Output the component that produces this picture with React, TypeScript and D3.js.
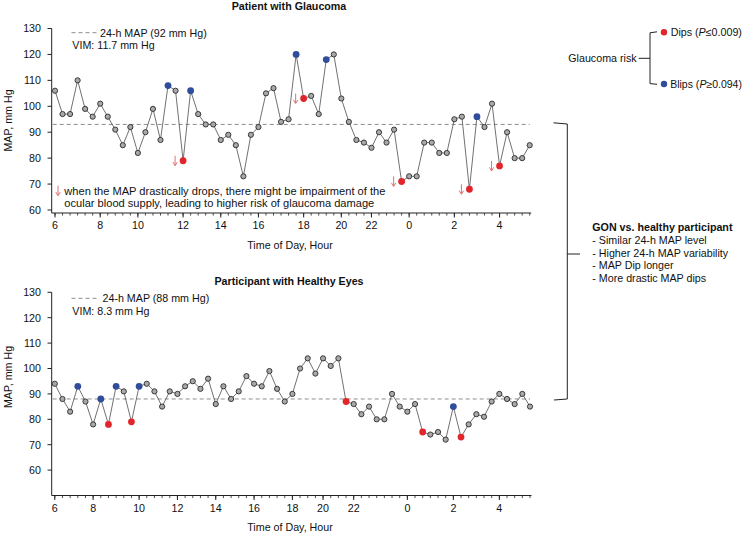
import React from "react";
import * as d3 from "d3";

// ---------- data ----------
const tickLabels = ["6", "8", "10", "12", "14", "16", "18", "20", "22", "0", "2", "4"];
const yTicks = [60, 70, 80, 90, 100, 110, 120, 130];

const topValues = [
  106, 97, 97, 110, 99, 96, 101, 96, 91, 85,
  92, 82, 90, 99, 87, 108, 106, 79, 106, 97,
  93, 93, 87, 89, 85, 73, 89, 92, 105, 107,
  94, 95, 120, 103, 104, 97, 118, 120, 103, 94,
  87, 86, 84, 90, 86, 91, 71, 73, 73, 86,
  86, 82, 82, 95, 96, 68, 96, 92, 101, 77,
  90, 80, 80, 85,
];
const topDips = [17, 33, 46, 55, 59];
const topBlips = [15, 18, 32, 36, 56];
const topTickIndex = [0, 6, 11, 17, 22, 27, 33, 38, 42, 47, 53, 59];
const topMeanLine = 93;

const bottomValues = [
  94, 88, 83, 93, 87, 78, 88, 78, 93, 91,
  79, 93, 94, 91, 85, 91, 90, 93, 95, 92,
  96, 86, 93, 88, 91, 97, 94, 93, 99, 92,
  87, 90, 100, 104, 98, 104, 101, 104, 87, 86,
  82, 85, 80, 80, 90, 85, 83, 86, 75, 74,
  75, 72, 85, 73, 78, 82, 81, 87, 90, 88,
  86, 90, 85,
];
const bottomDips = [7, 10, 38, 48, 53];
const bottomBlips = [3, 6, 8, 11, 52];
const bottomTickIndex = [0, 5, 11, 16, 21, 26, 31, 35, 39, 46, 52, 58];
const bottomMeanLine = 88;

const gonLines = [
  "- Similar 24-h MAP level",
  "- Higher 24-h MAP variability",
  "- MAP Dip longer",
  "- More drastic MAP dips",
];

// ---------- style ----------
const FONT = "'Liberation Sans', Arial, Helvetica, sans-serif";
const FS = 10.7;
const RED = "#e2252b";
const BLUE = "#2f4d9a";
const GRAY = "#a9a9a9";
const ARROW = "#e06262";
const INK = "#222";

function DipArrow({ x, y }: { x: number; y: number }) {
  return (
    <path
      d={`M${x},${y - 5} V${y + 4.6} M${x - 2.2},${y + 1.4} L${x},${y + 5} L${x + 2.2},${y + 1.4}`}
      fill="none"
      stroke={ARROW}
      strokeWidth={0.9}
    />
  );
}

type PanelProps = {
  title: string;
  titleY: number;
  values: number[];
  dips: number[];
  blips: number[];
  tickIndex: number[];
  meanLine: number;
  meanLabel: string;
  vim: string;
  xRange: [number, number];
  yDomain: [number, number];
  yRange: [number, number];
  axisY: number;
  legendY: number;
  legendTextX: number;
  yTitleY: number;
  arrows: boolean;
};

function Panel(p: PanelProps) {
  const axisX = 51.7;
  const x = d3.scaleLinear().domain([0, p.values.length - 1]).range(p.xRange);
  const y = d3.scaleLinear().domain(p.yDomain).range(p.yRange);
  const line = d3
    .line<number>()
    .x((_, i) => x(i))
    .y((d) => y(d));
  const dipSet = new Set(p.dips);
  const blipSet = new Set(p.blips);
  const idx = d3.range(p.values.length);
  return (
    <g>
      <text x={289} y={p.titleY} textAnchor="middle" fontWeight="bold" fontSize={FS}>
        {p.title}
      </text>
      {/* y axis */}
      <line x1={axisX} x2={axisX} y1={y(130)} y2={p.axisY} stroke={INK} strokeWidth={1} />
      {yTicks.map((t) => (
        <g key={t}>
          <line x1={axisX - 4.2} x2={axisX} y1={y(t)} y2={y(t)} stroke={INK} strokeWidth={1} />
          <text x={41} y={y(t)} dy="0.36em" textAnchor="end" fontSize={FS}>
            {t}
          </text>
        </g>
      ))}
      <text
        transform={`translate(11.5,${p.yTitleY}) rotate(-90)`}
        textAnchor="middle"
        fontSize={FS}
      >
        MAP, mm Hg
      </text>
      {/* x axis */}
      <line x1={axisX} x2={p.xRange[1] + 1.5} y1={p.axisY} y2={p.axisY} stroke={INK} strokeWidth={1} />
      {idx.map((i) => (
        <line
          key={"m" + i}
          x1={x(i)}
          x2={x(i)}
          y1={p.axisY}
          y2={p.axisY + 2.6}
          stroke={INK}
          strokeWidth={0.8}
        />
      ))}
      {p.tickIndex.map((ti, k) => (
        <g key={"t" + k}>
          <line x1={x(ti)} x2={x(ti)} y1={p.axisY} y2={p.axisY + 4.5} stroke={INK} strokeWidth={1} />
          <text x={x(ti)} y={p.axisY + 16.2} textAnchor="middle" fontSize={FS}>
            {tickLabels[k]}
          </text>
        </g>
      ))}
      <text x={290} y={p.axisY + 35.9} textAnchor="middle" fontSize={FS}>
        Time of Day, Hour
      </text>
      {/* mean line */}
      <line
        x1={axisX + 1}
        x2={p.xRange[1]}
        y1={y(p.meanLine)}
        y2={y(p.meanLine)}
        stroke="#808080"
        strokeWidth={0.9}
        strokeDasharray="4,3"
      />
      {/* in-plot legend */}
      <line
        x1={71.5}
        x2={97}
        y1={p.legendY}
        y2={p.legendY}
        stroke="#808080"
        strokeWidth={0.9}
        strokeDasharray="4,3"
      />
      <text x={p.legendTextX} y={p.legendY + 3.8} fontSize={FS}>
        {p.meanLabel}
      </text>
      <text x={72.3} y={p.legendY + 16.4} fontSize={FS}>
        {p.vim}
      </text>
      {/* series */}
      <path d={line(p.values) || ""} fill="none" stroke="#4d4d4d" strokeWidth={0.8} />
      {idx.map((i) => {
        const v = p.values[i];
        if (dipSet.has(i) || blipSet.has(i)) {
          return (
            <circle key={"c" + i} cx={x(i)} cy={y(v)} r={3.4} fill={dipSet.has(i) ? RED : BLUE} />
          );
        }
        return (
          <circle
            key={"c" + i}
            cx={x(i)}
            cy={y(v)}
            r={2.6}
            fill={GRAY}
            stroke="#2a2a2a"
            strokeWidth={0.9}
          />
        );
      })}
      {p.arrows && p.dips.map((i) => <DipArrow key={"a" + i} x={x(i) - 8} y={y(p.values[i])} />)}
    </g>
  );
}

export default function App() {
  return (
    <svg
      width={745}
      height={536}
      style={{ position: "absolute", left: 0, top: 0, background: "#fff" }}
      fontFamily={FONT}
      fill="#111"
    >
      <rect width={745} height={536} fill="#fff" />
      <Panel
        title="Patient with Glaucoma"
        titleY={9.8}
        values={topValues}
        dips={topDips}
        blips={topBlips}
        tickIndex={topTickIndex}
        meanLine={topMeanLine}
        meanLabel="24-h MAP (92 mm Hg)"
        vim="VIM: 11.7 mm Hg"
        xRange={[55, 529.7]}
        yDomain={[60, 130]}
        yRange={[210, 28.5]}
        axisY={213}
        legendY={32.7}
        legendTextX={100}
        yTitleY={120.5}
        arrows={true}
      />
      <Panel
        title="Participant with Healthy Eyes"
        titleY={284.8}
        values={bottomValues}
        dips={bottomDips}
        blips={bottomBlips}
        tickIndex={bottomTickIndex}
        meanLine={bottomMeanLine}
        meanLabel="24-h MAP (88 mm Hg)"
        vim="VIM: 8.3 mm Hg"
        xRange={[54.8, 530]}
        yDomain={[50, 130]}
        yRange={[495.5, 292.3]}
        axisY={495.5}
        legendY={298.3}
        legendTextX={102.5}
        yTitleY={377}
        arrows={false}
      />
      {/* annotation */}
      <DipArrow x={58} y={190.7} />
      <text x={64.3} y={194.5} fontSize={11.1}>
        when the MAP drastically drops, there might be impairment of the
      </text>
      <text x={64.3} y={207.2} fontSize={11.1}>
        ocular blood supply, leading to higher risk of glaucoma damage
      </text>
      {/* glaucoma risk legend */}
      <text x={568.3} y={62} fontSize={FS}>
        Glaucoma risk
      </text>
      <line x1={638.7} x2={650} y1={58.3} y2={58.3} stroke={INK} strokeWidth={1} />
      <path d="M657,31.8 L650,32.8 L650,83.6 L657,84.3" fill="none" stroke={INK} strokeWidth={1} />
      <circle cx={664} cy={32.3} r={3.2} fill={RED} />
      <circle cx={664} cy={84} r={3.2} fill={BLUE} />
      <text x={670.7} y={36} fontSize={FS}>
        Dips (<tspan fontStyle="italic">P</tspan>≤0.009)
      </text>
      <text x={670.2} y={87.7} fontSize={10.5}>
        Blips (<tspan fontStyle="italic">P</tspan>≥0.094)
      </text>
      {/* big bracket */}
      <path d="M553.5,122.8 L567.3,124 L567.3,399 L554,400" fill="none" stroke={INK} strokeWidth={1} />
      <line x1={567.3} x2={580} y1={254} y2={254} stroke={INK} strokeWidth={1} />
      <text x={592.3} y={231} fontSize={FS} fontWeight="bold">
        GON vs. healthy participant
      </text>
      {gonLines.map((t, i) => (
        <text key={t} x={592.3} y={244 + i * 12.7} fontSize={FS}>
          {t}
        </text>
      ))}
    </svg>
  );
}
